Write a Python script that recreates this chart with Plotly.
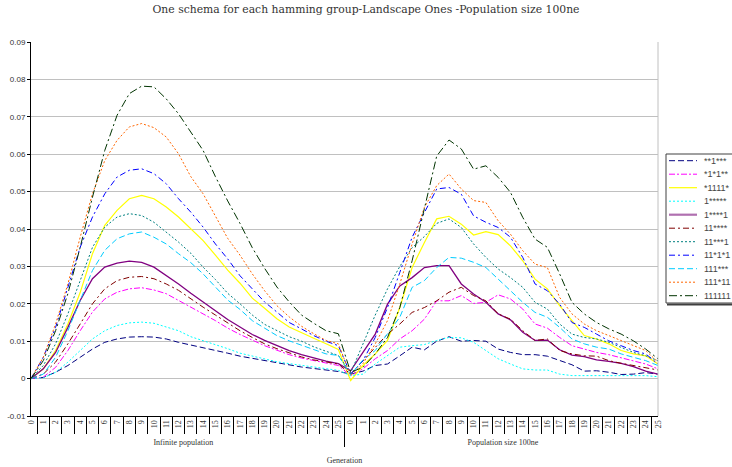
import plotly.graph_objects as go

# Generation labels and the two population settings
generations = [str(g) for g in range(26)]
groups = ["Infinite population", "Population size 100ne"]

# Schema labels (legend order)
schemas = ["**1***", "*1*1**", "*1111*", "1*****", "1****1", "11****",
           "11***1", "11*1*1", "111***", "111*11", "111111"]

# Proportion of each schema per generation, infinite population
inf_s1 = [0, 0.0003, 0.0017, 0.0035, 0.0057, 0.0079, 0.0097, 0.0106, 0.0111, 0.0112, 0.0111, 0.0106, 0.0097,
          0.009, 0.0084, 0.0076, 0.0068, 0.006, 0.0054, 0.0048, 0.0042, 0.0037, 0.0031, 0.0027, 0.0023, 0.0019]
inf_s2 = [0, 0.0004, 0.003, 0.0075, 0.0128, 0.0178, 0.0213, 0.0231, 0.024, 0.0243, 0.0237, 0.0227, 0.0209,
          0.019, 0.0173, 0.0155, 0.0135, 0.0118, 0.0102, 0.0088, 0.0076, 0.0064, 0.0055, 0.0048, 0.0041, 0.0035]
inf_s3 = [0, 0.0026, 0.0075, 0.0146, 0.023, 0.0334, 0.041, 0.045, 0.0481, 0.049, 0.0481, 0.0459, 0.0432,
          0.040, 0.0369, 0.033, 0.029, 0.0255, 0.0215, 0.0188, 0.016, 0.0138, 0.0122, 0.0108, 0.0093, 0.0078]
inf_s4 = [0, 0.0002, 0.0017, 0.0044, 0.0075, 0.0106, 0.0128, 0.0142, 0.0149, 0.0151, 0.0148, 0.0137, 0.0128,
          0.0112, 0.0102, 0.009, 0.008, 0.0068, 0.006, 0.0052, 0.0045, 0.004, 0.0036, 0.0031, 0.0026, 0.0022]
inf_s5 = [0, 0.0026, 0.007, 0.0137, 0.0209, 0.0267, 0.0298, 0.0309, 0.0314, 0.0311, 0.0298, 0.0276, 0.0253,
          0.0228, 0.0204, 0.018, 0.0158, 0.0138, 0.0118, 0.0102, 0.0088, 0.0075, 0.0064, 0.0055, 0.0047, 0.004]
inf_s6 = [0, 0.0012, 0.0044, 0.0093, 0.0146, 0.02, 0.024, 0.0262, 0.0271, 0.0273, 0.0267, 0.0253, 0.0236,
          0.0213, 0.0191, 0.017, 0.0148, 0.0128, 0.011, 0.0093, 0.008, 0.0068, 0.0058, 0.005, 0.0044, 0.0039]
inf_s7 = [0, 0.0035, 0.0093, 0.0173, 0.0262, 0.0351, 0.0405, 0.0432, 0.0441, 0.0436, 0.0418, 0.0392, 0.0365,
          0.0335, 0.0298, 0.0265, 0.0228, 0.02, 0.017, 0.0145, 0.0128, 0.0112, 0.01, 0.0085, 0.0073, 0.0062]
inf_s8 = [0, 0.0057, 0.0137, 0.0244, 0.0351, 0.0432, 0.0494, 0.0539, 0.0557, 0.0561, 0.0548, 0.0521, 0.0481,
          0.0445, 0.0405, 0.036, 0.032, 0.0275, 0.024, 0.0205, 0.0178, 0.015, 0.0133, 0.0115, 0.01, 0.0088]
inf_s9 = [0, 0.0012, 0.0057, 0.0128, 0.0209, 0.0289, 0.0343, 0.0374, 0.0387, 0.0392, 0.0378, 0.036, 0.0334,
          0.031, 0.028, 0.0245, 0.021, 0.0185, 0.0155, 0.0135, 0.0115, 0.0101, 0.009, 0.0078, 0.0066, 0.0062]
inf_s10 = [0, 0.0057, 0.0146, 0.0253, 0.0378, 0.0494, 0.0583, 0.0637, 0.0673, 0.0682, 0.0671, 0.0646, 0.0601,
           0.054, 0.0494, 0.0435, 0.0375, 0.033, 0.028, 0.0235, 0.0195, 0.0165, 0.014, 0.012, 0.0102, 0.0093]
inf_s11 = [0, 0.0048, 0.0128, 0.0227, 0.0351, 0.0485, 0.061, 0.0704, 0.0762, 0.0782, 0.078, 0.0748, 0.0708,
           0.066, 0.061, 0.054, 0.0475, 0.0415, 0.035, 0.0295, 0.0245, 0.0205, 0.017, 0.0148, 0.0128, 0.012]

# Proportion of each schema per generation, population of size 100ne
pop_s1 = [0.0012, 0.002, 0.0035, 0.0039, 0.0061, 0.0084, 0.0077, 0.01, 0.0112, 0.01, 0.0102, 0.01, 0.0079,
          0.007, 0.0064, 0.0064, 0.006, 0.0048, 0.0037, 0.002, 0.0021, 0.0017, 0.0011, 0.0012, 0.0016, 0.0012]
pop_s2 = [0.0008, 0.0026, 0.0053, 0.0075, 0.0106, 0.0128, 0.0159, 0.0208, 0.0208, 0.0222, 0.0201, 0.0204, 0.0224,
          0.0213, 0.0186, 0.0146, 0.0135, 0.011, 0.0088, 0.0079, 0.007, 0.0064, 0.0055, 0.0046, 0.0039, 0.0026]
pop_s3 = [-0.0005, 0.0035, 0.0066, 0.0102, 0.019, 0.0297, 0.0364, 0.0427, 0.0434, 0.0413, 0.0384, 0.0393, 0.0385,
          0.0355, 0.0315, 0.0266, 0.024, 0.0195, 0.0155, 0.0115, 0.0106, 0.0093, 0.0075, 0.0066, 0.0061, 0.0039]
pop_s4 = [0.0008, 0.0012, 0.0039, 0.0061, 0.0084, 0.0088, 0.0091, 0.0102, 0.011, 0.0109, 0.0097, 0.0075, 0.0053,
          0.0039, 0.0026, 0.0023, 0.0023, 0.0012, 0.0008, 0.0008, 0.0008, 0.001, 0.001, 0.0008, 0.0008, 0.0005]
pop_s5 = [0.0021, 0.007, 0.0119, 0.0199, 0.0248, 0.027, 0.0297, 0.0302, 0.0302, 0.0253, 0.0226, 0.0204, 0.0173,
          0.0157, 0.0124, 0.0102, 0.0103, 0.0077, 0.0063, 0.0059, 0.005, 0.0046, 0.0041, 0.0032, 0.002, 0.0012]
pop_s6 = [0.0012, 0.0048, 0.0084, 0.0119, 0.0146, 0.0177, 0.019, 0.0208, 0.0231, 0.0244, 0.0222, 0.0208, 0.0173,
          0.0159, 0.0128, 0.0102, 0.0106, 0.0075, 0.0066, 0.0061, 0.006, 0.0048, 0.0041, 0.0035, 0.0028, 0.0023]
pop_s7 = [0.0015, 0.009, 0.017, 0.024, 0.03, 0.035, 0.038, 0.0415, 0.0427, 0.0404, 0.036, 0.0324, 0.0293,
          0.027, 0.0244, 0.0204, 0.0186, 0.0146, 0.0119, 0.011, 0.0106, 0.0097, 0.0084, 0.007, 0.0061, 0.0048]
pop_s8 = [0.0012, 0.0048, 0.011, 0.019, 0.0284, 0.0378, 0.0444, 0.0507, 0.0511, 0.0493, 0.0435, 0.0418, 0.0404,
          0.0378, 0.0324, 0.0253, 0.0235, 0.0199, 0.015, 0.0137, 0.0119, 0.0101, 0.0088, 0.0075, 0.0066, 0.0039]
pop_s9 = [0.001, 0.005, 0.0075, 0.012, 0.0164, 0.0244, 0.0262, 0.0297, 0.0324, 0.0322, 0.0311, 0.0297, 0.0266,
          0.0235, 0.0204, 0.0177, 0.0164, 0.0137, 0.0106, 0.0093, 0.0084, 0.0079, 0.0066, 0.0057, 0.0048, 0.0035]
pop_s10 = [0.0008, 0.004, 0.0093, 0.0155, 0.0253, 0.036, 0.0458, 0.0516, 0.0547, 0.0507, 0.0476, 0.0471, 0.0422,
           0.0386, 0.0342, 0.0306, 0.0297, 0.0217, 0.0173, 0.0146, 0.0128, 0.0115, 0.0101, 0.0088, 0.0075, 0.0044]
pop_s11 = [0.0017, 0.003, 0.0066, 0.011, 0.019, 0.0315, 0.0458, 0.0595, 0.0638, 0.0614, 0.056, 0.0569, 0.0538,
           0.0498, 0.0431, 0.0373, 0.0351, 0.028, 0.0204, 0.0173, 0.015, 0.0133, 0.0119, 0.0101, 0.0079, 0.0053]

inf_series = [inf_s1, inf_s2, inf_s3, inf_s4, inf_s5, inf_s6, inf_s7, inf_s8, inf_s9, inf_s10, inf_s11]
pop_series = [pop_s1, pop_s2, pop_s3, pop_s4, pop_s5, pop_s6, pop_s7, pop_s8, pop_s9, pop_s10, pop_s11]

# Line colours and dash patterns per schema
colors = ["#000080", "#FF00FF", "#FFFF00", "#00FFFF", "#800080", "#800000",
          "#008080", "#0000FF", "#00CCFF", "#FF6600", "#003300"]
dashes = ["6px,3px", "6px,2px,2px,2px", "solid", "2px,2px", "solid", "6px,3px,2px,3px",
          "2px,2px", "6px,3px,2px,3px", "6px,3px", "2px,2px", "8px,3px,2px,3px"]
widths = [1, 1, 1.2, 1, 1.3, 1, 1, 1, 1, 1, 1]

x_multi = [[groups[0]] * 26 + [groups[1]] * 26, generations + generations]

fig = go.Figure()
for name, a, b, c, d, w in zip(schemas, inf_series, pop_series, colors, dashes, widths):
    fig.add_trace(go.Scatter(
        x=x_multi, y=a + b, name=name, mode="lines",
        line=dict(color=c, dash=d, width=w), showlegend=False,
    ))

y_ticks = [-0.01, 0, 0.01, 0.02, 0.03, 0.04, 0.05, 0.06, 0.07, 0.08, 0.09]
y_text = ["-0.01", "0", "0.01", "0.02", "0.03", "0.04", "0.05", "0.06", "0.07", "0.08", "0.09"]

W, H = 732, 467
ML, MR, MT, MB = 31, 74, 42, 51
plot_w = W - ML - MR
plot_h = H - MT - MB

fig.update_layout(
    width=W, height=H,
    margin=dict(l=ML, r=MR, t=MT, b=MB),
    paper_bgcolor="white", plot_bgcolor="white",
    font=dict(family="Liberation Sans, Arial, sans-serif", color="#333333", size=8),
    title=dict(
        text="One schema for each hamming group-Landscape Ones -Population size 100ne",
        x=0.5, xref="container", y=0.988, yref="container", xanchor="center", yanchor="top",
        font=dict(family="DejaVu Serif, serif", size=10.8, color="#333333"),
    ),
    showlegend=False,
    xaxis=dict(
        type="multicategory",
        showline=True, linecolor="black", linewidth=1,
        ticks="outside", ticklen=17, tickcolor="black",
        tickangle=-90, tickfont=dict(size=8, family="Liberation Serif, serif", color="#333333"),
        showdividers=True, dividercolor="black", dividerwidth=1,
        showgrid=False, automargin=False,
        title=dict(text="Generation", font=dict(size=8, family="Liberation Serif, serif", color="#333333"),
                   standoff=11),
    ),
    yaxis=dict(
        range=[-0.01, 0.09], tickvals=y_ticks, ticktext=y_text,
        showline=True, linecolor="black", linewidth=1,
        ticks="outside", ticklen=3, tickcolor="black",
        showgrid=True, gridcolor="#C0C0C0", gridwidth=1,
        zeroline=False, automargin=False,
        tickfont=dict(size=8, color="#333333"),
    ),
)

# light frame line on the right side of the plot area
fig.add_shape(type="line", xref="paper", yref="paper", x0=1, x1=1, y0=0, y1=1,
              line=dict(color="#C0C0C0", width=1))


# Legend box drawn in pixel terms, converted to paper coordinates
def px(xp):
    return (xp - ML) / plot_w


def py(yp):
    return (H - MB - yp) / plot_h


box_l, box_t, box_b = 666, 154, 303
fig.add_shape(type="rect", xref="paper", yref="paper",
              x0=px(box_l), x1=px(W + 5), y0=py(box_b), y1=py(box_t),
              line=dict(color="#404040", width=1), fillcolor="white", layer="above")
fig.add_shape(type="line", xref="paper", yref="paper",
              x0=px(box_l + 1), x1=px(W + 5), y0=py(box_b + 1.5), y1=py(box_b + 1.5),
              line=dict(color="#404040", width=2), layer="above")

row0, row_step = 160.7, 13.5
for i, (name, c, d, w) in enumerate(zip(schemas, colors, dashes, widths)):
    yy = row0 + row_step * i
    lw = 2.2 if name == "1****1" else w
    lc = "#B070B0" if name == "1****1" else c
    fig.add_shape(type="line", xref="paper", yref="paper",
                  x0=px(669), x1=px(697), y0=py(yy), y1=py(yy),
                  line=dict(color=lc, dash=d, width=lw), layer="above")
    fig.add_annotation(xref="paper", yref="paper", x=px(702), y=py(yy),
                       text=name, showarrow=False, xanchor="left", yanchor="middle",
                       font=dict(size=9, color="#444444", family="Liberation Sans, Arial, sans-serif"))

fig.write_html("out.html")
